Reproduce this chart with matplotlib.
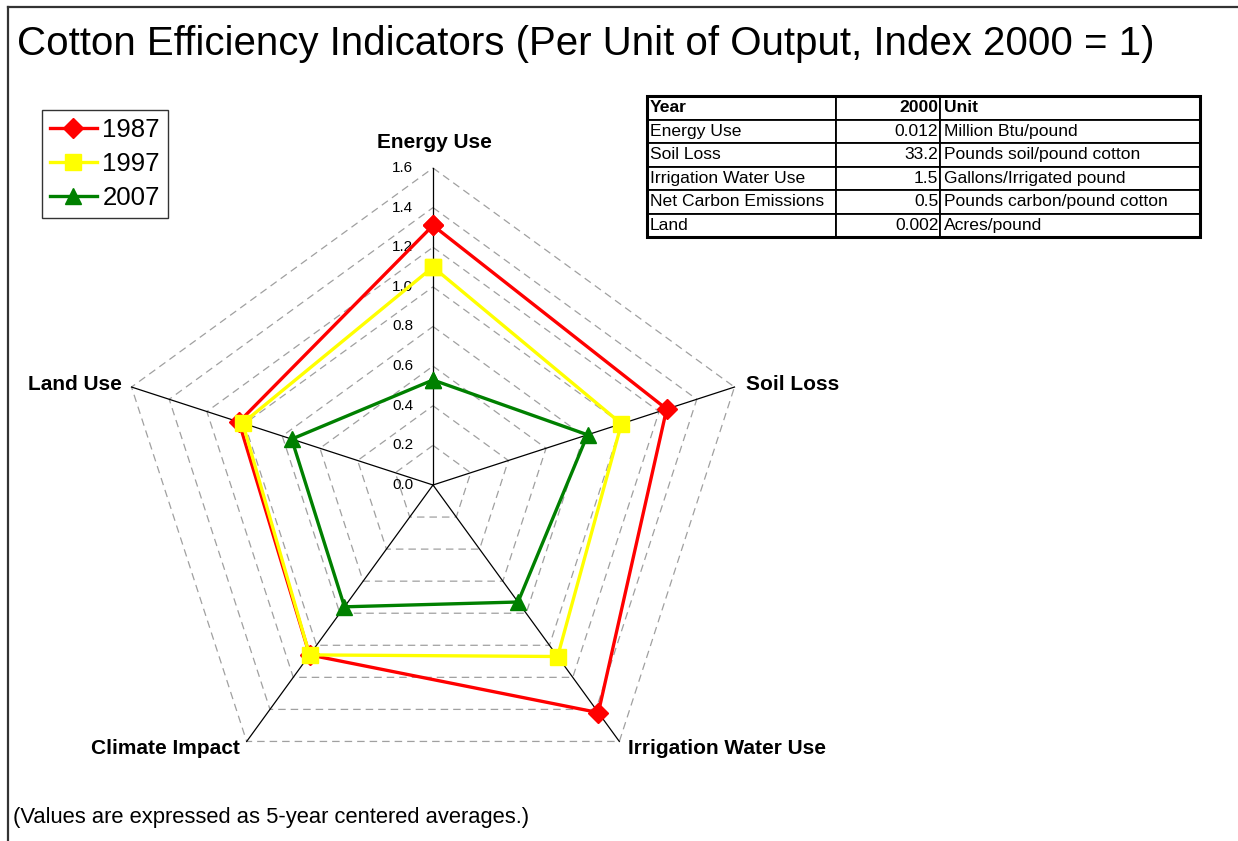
import numpy as np
import matplotlib
matplotlib.use("Agg")
import matplotlib.pyplot as plt
from matplotlib.lines import Line2D
from matplotlib.patches import Rectangle

plt.rcParams['font.family'] = ['Liberation Sans', 'DejaVu Sans']

# ---------------- data ----------------
categories = ["Energy Use", "Soil Loss", "Irrigation Water Use", "Climate Impact", "Land Use"]
years = ["1987", "1997", "2007"]
vals_1987 = [1.31, 1.24, 1.42, 1.06, 1.03]
vals_1997 = [1.10, 1.00, 1.07, 1.06, 1.01]
vals_2007 = [0.53, 0.82, 0.73, 0.76, 0.75]
tick_values = [0.0, 0.2, 0.4, 0.6, 0.8, 1.0, 1.2, 1.4, 1.6]

table_header = ["Year", "2000", "Unit"]
table_rows = [
    ["Energy Use", "0.012", "Million Btu/pound"],
    ["Soil Loss", "33.2", "Pounds soil/pound cotton"],
    ["Irrigation Water Use", "1.5", "Gallons/Irrigated pound"],
    ["Net Carbon Emissions", "0.5", "Pounds carbon/pound cotton"],
    ["Land", "0.002", "Acres/pound"],
]

series = [
    (years[0], vals_1987, "#ff0000", "D", 10),
    (years[1], vals_1997, "#ffff00", "s", 11),
    (years[2], vals_2007, "#008000", "^", 11),
]

# ---------------- figure ----------------
W, H = 1238, 841
fig = plt.figure(figsize=(W / 100, H / 100), dpi=100)

cx, cy = 433, 485          # center in pixels (from top-left)
scale = 317 / 1.6          # pixels per unit
ax = fig.add_axes([0, 0, 1, 1])
ax.set_xlim(-cx / scale, (W - cx) / scale)
ax.set_ylim(-(H - cy) / scale, cy / scale)
ax.axis("off")

n = len(categories)
angles = np.pi / 2 - 2 * np.pi * np.arange(n) / n

def xy(r, a):
    r = np.asarray(r)
    return r * np.cos(a), r * np.sin(a)

# grid pentagons
rmax = tick_values[-1]
for t in tick_values[1:]:
    a = np.append(angles, angles[0])
    x, y = xy(np.full(n + 1, t), a)
    ax.plot(x, y, color="#a0a0a0", lw=0.9, dashes=(6, 4), zorder=1)

# spokes
for a in angles:
    x, y = xy([0, rmax], np.array([a, a]))
    ax.plot(x, y, color="black", lw=0.9, zorder=2)

# tick labels
for t in tick_values:
    ax.text(-20 / scale, t, f"{t:.1f}", ha="right", va="center", fontsize=11)

# series
for name, vals, col, mk, ms in series:
    v = np.append(vals, vals[0])
    a = np.append(angles, angles[0])
    x, y = xy(v, a)
    ax.plot(x, y, color=col, lw=2.4, marker=mk, markersize=ms,
            markeredgecolor=col, zorder=3)

# category labels (pixel positions relative to center)
label_pos = [
    (434, 143, "center", "center"),
    (746, 385, "left", "center"),
    (628, 748, "left", "center"),
    (240, 748, "right", "center"),
    (122, 385, "right", "center"),
]
for cat, (px, py, ha, va) in zip(categories, label_pos):
    ax.text((px - cx) / scale, (cy - py) / scale, cat, ha=ha, va=va,
            fontsize=15, fontweight="bold")

# title
fig.text(17 / W, 1 - 44 / H, "Cotton Efficiency Indicators (Per Unit of Output, Index 2000 = 1)",
         ha="left", va="center", fontsize=29)

# footnote
fig.text(13 / W, 1 - 817 / H, "(Values are expressed as 5-year centered averages.)",
         ha="left", va="center", fontsize=15.8)

# legend
handles = [Line2D([0], [0], color=c, lw=2.4, marker=m, markersize=ms, markeredgecolor=c)
           for _, _, c, m, ms in series]
leg = fig.legend(handles, years, loc="upper left",
                 bbox_to_anchor=(42 / W, 1 - 110 / H), fontsize=18.5,
                 frameon=True, fancybox=False, edgecolor="black",
                 handlelength=1.85, handletextpad=0.2, borderpad=0.3,
                 labelspacing=0.4, borderaxespad=0)
leg.get_frame().set_linewidth(1.0)

# table
tx0, tx1, ty0, ty1 = 647, 1200, 96, 237
tax = fig.add_axes([tx0 / W, 1 - ty1 / H, (tx1 - tx0) / W, (ty1 - ty0) / H])
tax.axis("off")
col_w = np.array([836 - 647, 940 - 836, 1200 - 940], dtype=float)
col_w = col_w / col_w.sum()
tbl = tax.table(cellText=table_rows, colLabels=table_header, colWidths=list(col_w),
                bbox=[0, 0, 1, 1], cellLoc="left")
tbl.auto_set_font_size(False)
for (r, c), cell in tbl.get_celld().items():
    cell.set_linewidth(1.3)
    cell.set_edgecolor("black")
    cell.PAD = 0.015
    txt = cell.get_text()
    txt.set_fontsize(12.6)
    if c == 1:
        cell._loc = "right"
        txt.set_ha("right")
    else:
        cell._loc = "left"
        txt.set_ha("left")
    if r == 0:
        txt.set_fontweight("bold")
# outer border of table thicker
tax.add_patch(Rectangle((0, 0), 1, 1, transform=tax.transAxes, fill=False,
                        lw=2.2, edgecolor="black", zorder=10, clip_on=False))

# frame lines (top and left)
fig.add_artist(Line2D([8 / W, 8 / W], [0, 1 - 7 / H], color="#333333", lw=1.6))
fig.add_artist(Line2D([8 / W, 1], [1 - 7 / H, 1 - 7 / H], color="#333333", lw=1.6))

fig.savefig("out.png", dpi=100)
